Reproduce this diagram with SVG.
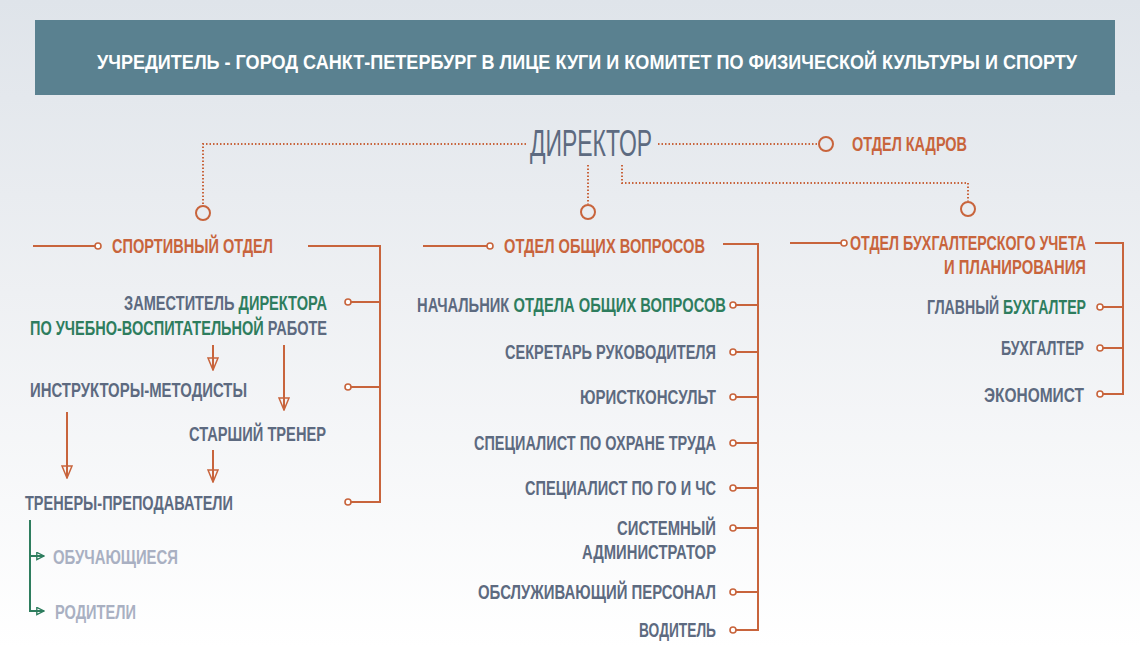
<svg xmlns="http://www.w3.org/2000/svg" width="1140" height="648" viewBox="0 0 1140 648">
<defs>
<linearGradient id="bg" x1="0" y1="0" x2="0" y2="1">
<stop offset="0" stop-color="#dfe4ea"/><stop offset="0.45" stop-color="#eef0f3"/><stop offset="1" stop-color="#ffffff"/>
</linearGradient>
<marker id="tri" viewBox="0 0 14 12" refX="13" refY="6" markerWidth="14" markerHeight="12" markerUnits="userSpaceOnUse" orient="auto">
<path d="M1,1 L13,6 L1,11 Z" fill="none" stroke="#c8643c" stroke-width="1.5"/>
</marker>
<marker id="gtri" viewBox="0 0 10 10" refX="9" refY="5" markerWidth="9" markerHeight="9" markerUnits="userSpaceOnUse" orient="auto">
<path d="M1,1 L9,5 L1,9 Z" fill="none" stroke="#2e7d5e" stroke-width="1.5"/>
</marker>
</defs>
<style>
text{font-family:"Liberation Sans","Roboto",sans-serif;font-size:20px;font-weight:bold}
.hd{font-size:21px;fill:#fff}
.dr{font-size:36px;font-weight:normal}
.o{fill:#c8643c}.s{fill:#5d6a80}.g{fill:#2e7d5e}.l{fill:#a9b0c2}
.ln{fill:none;stroke:#c8643c;stroke-width:2}
.dt{fill:none;stroke:#c8643c;stroke-width:2;stroke-dasharray:1.5 2}
.c{fill:none;stroke:#c8643c;stroke-width:2}
.cs{fill:#fff;stroke:#c8643c;stroke-width:1.6}
.gl{fill:none;stroke:#2e7d5e;stroke-width:2}
</style>
<rect width="1140" height="648" fill="url(#bg)"/>
<g id="header"><rect x="35" y="20" width="1080" height="75" fill="#5a8190"/>
<text x="97" y="69" class="hd" textLength="980" lengthAdjust="spacingAndGlyphs">УЧРЕДИТЕЛЬ  - ГОРОД САНКТ-ПЕТЕРБУРГ В ЛИЦЕ КУГИ И КОМИТЕТ ПО ФИЗИЧЕСКОЙ КУЛЬТУРЫ И СПОРТУ</text></g>
<g id="connectors">
<path class="dt" d="M526,144 H203 V205"/>
<path class="dt" d="M658,144 H818"/>
<path class="dt" d="M588,165 V204"/>
<path class="dt" d="M622,165 V183 H968 V201"/>
<circle class="c" cx="203" cy="213" r="7"/><circle class="c" cx="588" cy="212" r="7"/><circle class="c" cx="968" cy="209" r="7"/><circle class="c" cx="826" cy="144" r="7"/>
<path class="ln" d="M33,246 H95"/><circle class="cs" cx="98" cy="246" r="3"/>
<path class="ln" d="M308,246 H380 V502 H351 M380,302 H351 M380,387 H351"/>
<circle class="cs" cx="348" cy="302" r="3"/><circle class="cs" cx="348" cy="387" r="3"/><circle class="cs" cx="348" cy="502" r="3"/>
<path class="ln" d="M213,345 V370" marker-end="url(#tri)"/>
<path class="ln" d="M284,345 V410" marker-end="url(#tri)"/>
<path class="ln" d="M67,412 V478" marker-end="url(#tri)"/>
<path class="ln" d="M213,450 V482" marker-end="url(#tri)"/>
<path class="gl" d="M30,520 V611 H44" marker-end="url(#gtri)"/>
<path class="gl" d="M30,556 H44" marker-end="url(#gtri)"/>
<path class="ln" d="M423,246 H487"/><circle class="cs" cx="490" cy="246" r="3"/>
<path class="ln" d="M723,244 H758 V630 H736 M758,305 H736 M758,352 H736 M758,397 H736 M758,443 H736 M758,488 H736 M758,528 H736 M758,592 H736"/>
<circle class="cs" cx="733" cy="305" r="3"/><circle class="cs" cx="733" cy="352" r="3"/><circle class="cs" cx="733" cy="397" r="3"/><circle class="cs" cx="733" cy="443" r="3"/><circle class="cs" cx="733" cy="488" r="3"/><circle class="cs" cx="733" cy="528" r="3"/><circle class="cs" cx="733" cy="592" r="3"/><circle class="cs" cx="733" cy="630" r="3"/>
<path class="ln" d="M790,243 H841"/><circle class="cs" cx="844" cy="243" r="3"/>
<path class="ln" d="M1095,243 H1123 V394 H1103 M1123,307 H1103 M1123,348 H1103"/>
<circle class="cs" cx="1100" cy="307" r="3"/><circle class="cs" cx="1100" cy="348" r="3"/><circle class="cs" cx="1100" cy="394" r="3"/>
</g>
<g id="director"><text x="530" y="156" class="s dr" textLength="122" lengthAdjust="spacingAndGlyphs">ДИРЕКТОР</text></g>
<g id="kadry"><text x="852" y="151" class="o" textLength="115" lengthAdjust="spacingAndGlyphs">ОТДЕЛ КАДРОВ</text></g>
<g id="sport"><text x="112" y="253" class="o" textLength="161" lengthAdjust="spacingAndGlyphs">СПОРТИВНЫЙ ОТДЕЛ</text></g>
<g id="zam"><text x="124" y="310" class="s" textLength="203" lengthAdjust="spacingAndGlyphs">ЗАМЕСТИТЕЛЬ <tspan class="g">ДИРЕКТОРА</tspan></text>
<text x="30" y="335" class="g" textLength="297" lengthAdjust="spacingAndGlyphs">ПО УЧЕБНО-ВОСПИТАТЕЛЬНОЙ <tspan class="s">РАБОТЕ</tspan></text></g>
<g id="instr"><text x="30" y="397" class="s" textLength="217" lengthAdjust="spacingAndGlyphs">ИНСТРУКТОРЫ-МЕТОДИСТЫ</text></g>
<g id="st"><text x="189" y="441" class="s" textLength="137" lengthAdjust="spacingAndGlyphs">СТАРШИЙ ТРЕНЕР</text></g>
<g id="tren"><text x="25" y="510" class="s" textLength="208" lengthAdjust="spacingAndGlyphs">ТРЕНЕРЫ-ПРЕПОДАВАТЕЛИ</text></g>
<g id="obuch"><text x="53" y="564" class="l" textLength="125" lengthAdjust="spacingAndGlyphs">ОБУЧАЮЩИЕСЯ</text></g>
<g id="rod"><text x="55" y="619" class="l" textLength="81" lengthAdjust="spacingAndGlyphs">РОДИТЕЛИ</text></g>
<g id="obsh"><text x="504" y="253" class="o" textLength="201" lengthAdjust="spacingAndGlyphs">ОТДЕЛ ОБЩИХ ВОПРОСОВ</text></g>
<g id="nach"><text x="417" y="312" class="s" textLength="309" lengthAdjust="spacingAndGlyphs">НАЧАЛЬНИК <tspan class="g">ОТДЕЛА ОБЩИХ ВОПРОСОВ</tspan></text></g>
<g id="sekr"><text x="716" y="359" class="s" text-anchor="end" textLength="211" lengthAdjust="spacingAndGlyphs">СЕКРЕТАРЬ РУКОВОДИТЕЛЯ</text></g>
<g id="yur"><text x="716" y="404" class="s" text-anchor="end" textLength="136" lengthAdjust="spacingAndGlyphs">ЮРИСТКОНСУЛЬТ</text></g>
<g id="ohr"><text x="716" y="450" class="s" text-anchor="end" textLength="242" lengthAdjust="spacingAndGlyphs">СПЕЦИАЛИСТ ПО ОХРАНЕ ТРУДА</text></g>
<g id="go"><text x="716" y="495" class="s" text-anchor="end" textLength="191" lengthAdjust="spacingAndGlyphs">СПЕЦИАЛИСТ ПО ГО И ЧС</text></g>
<g id="sys"><text x="716" y="535" class="s" text-anchor="end" textLength="99" lengthAdjust="spacingAndGlyphs">СИСТЕМНЫЙ</text>
<text x="716" y="559" class="s" text-anchor="end" textLength="134" lengthAdjust="spacingAndGlyphs">АДМИНИСТРАТОР</text></g>
<g id="obsl"><text x="716" y="599" class="s" text-anchor="end" textLength="238" lengthAdjust="spacingAndGlyphs">ОБСЛУЖИВАЮЩИЙ ПЕРСОНАЛ</text></g>
<g id="vod"><text x="716" y="637" class="s" text-anchor="end" textLength="77" lengthAdjust="spacingAndGlyphs">ВОДИТЕЛЬ</text></g>
<g id="buh"><text x="1086" y="250" class="o" text-anchor="end" textLength="236" lengthAdjust="spacingAndGlyphs">ОТДЕЛ БУХГАЛТЕРСКОГО УЧЕТА</text>
<text x="1086" y="274" class="o" text-anchor="end" textLength="142" lengthAdjust="spacingAndGlyphs">И ПЛАНИРОВАНИЯ</text></g>
<g id="glbuh"><text x="1086" y="314" class="s" text-anchor="end" textLength="159" lengthAdjust="spacingAndGlyphs">ГЛАВНЫЙ <tspan class="g">БУХГАЛТЕР</tspan></text></g>
<g id="buh2"><text x="1084" y="355" class="s" text-anchor="end" textLength="83" lengthAdjust="spacingAndGlyphs">БУХГАЛТЕР</text></g>
<g id="econ"><text x="1084" y="402" class="s" text-anchor="end" textLength="100" lengthAdjust="spacingAndGlyphs">ЭКОНОМИСТ</text></g>
</svg>
